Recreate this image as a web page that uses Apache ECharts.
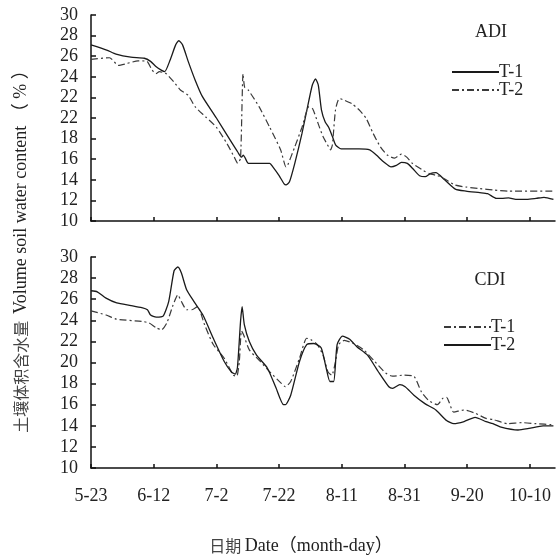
<!DOCTYPE html>
<html><head><meta charset="utf-8">
<script src="https://cdn.jsdelivr.net/npm/echarts@6/dist/echarts.min.js"></script>
<style>html,body{margin:0;padding:0;background:#fff}#c{width:560px;height:560px}</style>
</head><body><div id="c"></div>
<script>
// x values are days after 5-23
const xTickDays = [0, 20, 40, 60, 80, 100, 120, 140];
const xTickLabels = ['5-23', '6-12', '7-2', '7-22', '8-11', '8-31', '9-20', '10-10'];
const yTopTickLabels = ['10', '12', '14', '16', '18', '22', '22', '24', '26', '28', '30'];
const yBottomTickLabels = ['10', '12', '14', '16', '18', '20', '22', '24', '26', '28', '30'];

// ADI panel
const adiT1Days = [0, 5, 8, 12.7, 17, 19, 20.7, 22.4, 23.5, 25.2, 27, 28, 29.2, 31, 33.2, 35.5, 40, 44.5, 46.8, 48, 48.6, 49.2, 50.2, 57, 58, 60, 61.6, 62.2, 63.3, 65, 67.3, 69.5, 70.6, 71.6, 72.5, 73.5, 74.7, 75.8, 77, 78, 79.8, 85.5, 88.9, 91, 93.5, 95.7, 97.4, 99, 100.9, 102.6, 104.8, 106.6, 108.2, 110, 112.8, 116.2, 119.6, 124, 126.5, 129.3, 131, 133.2, 135.5, 139, 142, 144.5, 147.5];
const adiT1 = [27.1, 26.6, 26.2, 25.9, 25.8, 25.5, 25.0, 24.65, 24.5, 25.6, 27.1, 27.5, 27.1, 25.5, 23.7, 22.1, 20.0, 17.8, 16.7, 16.2, 16.4, 16.1, 15.6, 15.6, 15.25, 14.4, 13.6, 13.5, 13.8, 15.6, 18.5, 21.7, 23.2, 23.8, 23.2, 20.8, 19.6, 19.1, 18.2, 17.4, 17.0, 17.0, 16.9, 16.4, 15.7, 15.25, 15.4, 15.7, 15.6, 15.1, 14.4, 14.3, 14.6, 14.7, 14.0, 13.1, 12.9, 12.75, 12.65, 12.2, 12.2, 12.25, 12.1, 12.1, 12.2, 12.3, 12.1];
const adiT2Days = [0, 5.9, 8.75, 11.6, 15, 17.8, 19.5, 20.7, 21.8, 24, 26.4, 28.6, 31, 33.2, 36.6, 40, 43.4, 45.7, 46.8, 47.7, 48.5, 49, 50.2, 53.6, 57, 60.5, 62.2, 62.7, 65, 67.3, 69.5, 70.7, 72.4, 74, 75.8, 76.4, 77, 78, 79.2, 81, 83.2, 85.5, 87.7, 90, 92.3, 94.5, 96.8, 99, 100.7, 102.5, 106, 108, 110.5, 112.7, 116, 119.5, 124, 128.6, 133, 147.5];
const adiT2 = [25.7, 25.85, 25.1, 25.3, 25.55, 25.5, 24.65, 24.3, 24.5, 24.3, 23.5, 22.7, 22.2, 21.1, 20.1, 19.1, 17.5, 16.2, 15.6, 16.1, 24.3, 23.0, 22.7, 21.1, 19.1, 16.9, 15.25, 15.4, 17.2, 19.1, 21.1, 20.9, 19.5, 18.2, 17.2, 16.9, 17.4, 20.8, 21.9, 21.7, 21.4, 20.8, 20.0, 18.5, 17.2, 16.4, 16.1, 16.5, 16.2, 15.6, 14.9, 14.6, 14.4, 14.1, 13.5, 13.3, 13.15, 13.0, 12.9, 12.9];

// CDI panel
const cdiT1Days = [0, 4.8, 8.2, 16.2, 18.5, 20.8, 22.5, 24.2, 26, 27.7, 28.8, 30.5, 32.2, 34, 36.2, 39, 42.5, 45.4, 46.5, 47.3, 48, 48.7, 50.5, 54, 57.4, 60.8, 62, 63.7, 66.5, 68.8, 70, 72.2, 74, 75.6, 76.8, 78, 79, 80.8, 83.7, 87, 90.5, 94, 96.2, 99.7, 103, 105.4, 107.7, 110.5, 112.2, 113.4, 115.7, 119, 122.5, 126, 128.2, 133, 137.4, 142, 147.5];
const cdiT1 = [24.9, 24.5, 24.1, 23.9, 23.75, 23.3, 23.1, 23.75, 25.3, 26.4, 25.8, 25.0, 25.0, 25.3, 23.6, 21.7, 20.4, 18.8, 18.7, 20.1, 23.0, 22.6, 21.2, 20.1, 19.0, 18.0, 17.7, 18.2, 20.4, 22.3, 22.2, 21.7, 20.7, 19.1, 18.8, 20.1, 21.7, 22.1, 21.8, 21.2, 20.1, 19.0, 18.7, 18.8, 18.7, 17.2, 16.4, 16.0, 16.6, 16.7, 15.3, 15.5, 15.2, 14.7, 14.6, 14.2, 14.3, 14.2, 14.1];
const cdiT2Days = [0, 2, 4.8, 8.2, 12.8, 16.2, 18, 19, 20.8, 23, 24.8, 26.5, 27.7, 28.8, 30.5, 32.8, 35.7, 39, 42.5, 44.8, 46, 46.7, 47.7, 48.2, 48.9, 50.5, 52.8, 56.2, 59, 61.4, 62, 63.7, 66.5, 68.8, 71, 73.4, 75, 76.2, 77.4, 78.5, 80.2, 82.5, 84.8, 88.2, 91.7, 95, 96.2, 98.5, 100.2, 103, 106.5, 110, 113.4, 115.7, 119, 122.5, 126, 128.2, 130.5, 136.2, 139.7, 144.2, 147.5];
const cdiT2 = [26.8, 26.7, 26.1, 25.65, 25.4, 25.2, 25.0, 24.5, 24.3, 24.4, 25.8, 28.7, 29.05, 28.5, 26.9, 25.8, 24.5, 22.3, 20.1, 19.1, 18.9, 19.5, 23.9, 25.3, 23.6, 22.0, 20.7, 19.5, 17.6, 16.0, 16.0, 16.9, 20.1, 21.7, 21.8, 21.4, 19.5, 18.2, 18.2, 21.7, 22.5, 22.2, 21.5, 20.7, 19.1, 17.7, 17.55, 17.9, 17.7, 16.9, 16.1, 15.5, 14.5, 14.2, 14.4, 14.8, 14.4, 14.2, 13.9, 13.6, 13.75, 14.0, 14.0];

const pairs = (xs, ys) => xs.map((x, i) => [x, ys[i]]);
const SERIF = '"Liberation Serif", "Noto Sans CJK SC", serif';
const CJK = '"Noto Sans CJK SC", sans-serif';
const FS = 18;
const solid = { color: '#1a1a1a', width: 1.3, type: 'solid' };
const dashDot = { color: '#3a3a3a', width: 1.2, type: [7, 3, 2, 3] };
const axisCol = '#111';

function xAxis(gridIndex, showLabels) {
  return {
    type: 'value', gridIndex, min: 0, max: 148,
    axisLine: { show: true, lineStyle: { color: axisCol, width: 1.5 } },
    axisTick: { show: true, inside: true, length: 4, customValues: xTickDays, lineStyle: { color: axisCol, width: 1.5 } },
    axisLabel: { show: showLabels, customValues: xTickDays, margin: 19, color: '#222', fontFamily: SERIF, fontSize: FS,
      formatter: v => xTickLabels[xTickDays.indexOf(v)] || '' },
    splitLine: { show: false }
  };
}
function yAxis(gridIndex, labels) {
  return {
    type: 'value', gridIndex, min: 10, max: 30, interval: 2,
    axisLine: { show: true, lineStyle: { color: axisCol, width: 1.5 } },
    axisTick: { show: true, inside: true, length: 5, lineStyle: { color: axisCol, width: 1.5 } },
    axisLabel: { margin: 13, color: '#222', fontFamily: SERIF, fontSize: FS,
      formatter: v => labels[Math.round((v - 10) / 2)] },
    splitLine: { show: false }
  };
}
function line(name, xi, data, style) {
  return { name, type: 'line', xAxisIndex: xi, yAxisIndex: xi, data, symbol: 'none', showSymbol: false,
    smooth: 0.2, lineStyle: style, itemStyle: { color: style.color }, animation: false };
}
const legendCommon = {
  orient: 'vertical', itemWidth: 47, itemHeight: 10, itemGap: 0, padding: 0,
  itemStyle: { opacity: 0 },
  textStyle: { fontFamily: SERIF, fontSize: FS, lineHeight: 16, color: '#222', padding: [0, 0, 0, -5] },
  formatter: n => n.split(' ')[1]
};

const chart = echarts.init(document.getElementById('c'));
chart.setOption({
  backgroundColor: '#fff',
  animation: false,
  grid: [
    { left: 91, top: 15, width: 464, height: 206 },
    { left: 91, top: 257, width: 464, height: 211 }
  ],
  xAxis: [xAxis(0, false), xAxis(1, true)],
  yAxis: [yAxis(0, yTopTickLabels), yAxis(1, yBottomTickLabels)],
  legend: [
    Object.assign({}, legendCommon, { left: 451, top: 63, data: ['ADI T-1', 'ADI T-2'] }),
    Object.assign({}, legendCommon, { left: 443, top: 318, data: ['CDI T-1', 'CDI T-2'] })
  ],
  series: [
    line('ADI T-1', 0, pairs(adiT1Days, adiT1), solid),
    line('ADI T-2', 0, pairs(adiT2Days, adiT2), dashDot),
    line('CDI T-1', 1, pairs(cdiT1Days, cdiT1), dashDot),
    line('CDI T-2', 1, pairs(cdiT2Days, cdiT2), solid)
  ],
  graphic: [
    { type: 'text', x: 491, y: 32, style: { text: 'ADI', font: FS + 'px ' + SERIF, fill: '#222', align: 'center', verticalAlign: 'middle' } },
    { type: 'text', x: 490, y: 280, style: { text: 'CDI', font: FS + 'px ' + SERIF, fill: '#222', align: 'center', verticalAlign: 'middle' } },
    { type: 'text', x: 301, y: 546, style: {
        text: '{cn|日期} {en|Date（month-day）}', align: 'center', verticalAlign: 'middle', fill: '#333',
        rich: { cn: { fontFamily: CJK, fontSize: 16, fill: '#444' }, en: { fontFamily: SERIF, fontSize: 18, fill: '#222' } } } },
    { type: 'text', x: 21, y: 247, rotation: Math.PI / 2, style: {
        text: '{cn|土壤体积含水量}  {en|Volume soil water content （ % ）}', align: 'center', verticalAlign: 'middle', fill: '#333',
        rich: { cn: { fontFamily: CJK, fontSize: 16, fill: '#444' }, en: { fontFamily: SERIF, fontSize: 18, fill: '#222' } } } }
  ]
});
</script></body></html>
